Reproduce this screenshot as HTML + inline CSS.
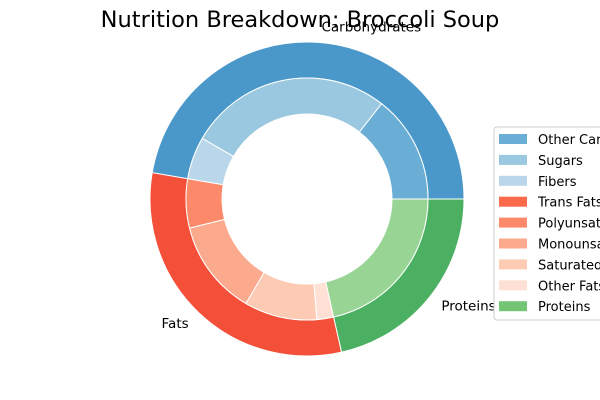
<!DOCTYPE html>
<html><head><meta charset="utf-8"><style>
body{margin:0;background:#fff;}
svg{display:block;font-family:"DejaVu Sans","Liberation Sans",sans-serif;}
</style></head><body>
<svg id="chart" width="600" height="400" viewBox="0 0 600 400">
<rect width="600" height="400" fill="#fff"/>
<text x="300" y="27" text-anchor="middle" font-size="22.5" fill="#000">Nutrition Breakdown: Broccoli Soup</text>
<g id="outer"></g>
<g id="inner"></g>
<g id="labels"></g>
<g id="legend"></g>
</svg>
<script>
const outerCategories = ["Carbohydrates","Fats","Proteins"];
const outerValues = [170.4, 112.4, 77.3];
const outerColors = ["#4a98c9","#f44f39","#4bb062"];
const innerCategories = ["Other Carbs","Sugars","Fibers","Trans Fat","Polyunsaturated","Monounsaturated","Saturated","Other Fats","Proteins"];
const innerValues = [52, 98, 20.4, 0, 23.6, 45.8, 35, 8, 77.3];
const innerColors = ["#6aaed6","#9ac8e0","#bad6eb","#fb6a4a","#fc8a6a","#fcaa8e","#fdcab4","#fee1d4","#98d594"];
const legendColors = ["#6aaed6","#9ac8e0","#bad6eb","#fb6a4a","#fc8a6a","#fcaa8e","#fdcab4","#fee1d4","#74c476"];
const legendLabels = ["Other Carbohydrates","Sugars","Fibers","Trans Fats","Polyunsaturated","Monounsaturated","Saturated","Other Fats","Proteins"];

const NS="http://www.w3.org/2000/svg";
const cx=307, cy=199;
function pt(r,a){const t=a*Math.PI/180;return [cx+r*Math.cos(t), cy-r*Math.sin(t)];}
function arc(r0,r1,a0,a1){
  const large=(a1-a0)>180?1:0;
  const p0=pt(r1,a0),p1=pt(r1,a1),p2=pt(r0,a1),p3=pt(r0,a0);
  return `M${p0[0]},${p0[1]} A${r1},${r1} 0 ${large} 0 ${p1[0]},${p1[1]} L${p2[0]},${p2[1]} A${r0},${r0} 0 ${large} 1 ${p3[0]},${p3[1]} Z`;
}
function ring(g,vals,cols,names,r0,r1){
  const tot=vals.reduce((a,b)=>a+b,0);let a=0;
  vals.forEach((v,i)=>{
    const a1=a+v/tot*360;
    if(v>0){
      const p=document.createElementNS(NS,"path");
      p.setAttribute("d",arc(r0,r1,a,a1));
      p.setAttribute("fill",cols[i]);p.setAttribute("stroke","#fff");p.setAttribute("stroke-width","1");
      
      
      g.appendChild(p);
    }
    a=a1;
  });
}
ring(document.getElementById("outer"),outerValues,outerColors,outerCategories,121,157);
ring(document.getElementById("inner"),innerValues,innerColors,innerCategories,85,121);

(function(){
  const g=document.getElementById("labels");
  const tot=outerValues.reduce((a,b)=>a+b,0);let a=0;
  outerValues.forEach((v,i)=>{
    const mid=a+v/tot*180;a+=v/tot*360;
    const p=pt(172,mid);
    const t=document.createElementNS(NS,"text");
    t.setAttribute("x",p[0]);t.setAttribute("y",p[1]+4);
    t.setAttribute("font-size","13.5");
    t.setAttribute("text-anchor",Math.cos(mid*Math.PI/180)>=0?"start":"end");
    t.textContent=outerCategories[i];
    
    
    g.appendChild(t);
  });
})();

(function(){
  const g=document.getElementById("legend");
  const box=document.createElementNS(NS,"rect");
  box.setAttribute("x",494);box.setAttribute("y",127);box.setAttribute("width",120);box.setAttribute("height",193);
  box.setAttribute("rx",3);box.setAttribute("fill","#fff");box.setAttribute("stroke","#ccc");
  
  
  g.appendChild(box);
  legendLabels.forEach((l,i)=>{
    const y=139+i*20.9;
    const r=document.createElementNS(NS,"rect");
    r.setAttribute("x",499);r.setAttribute("y",y-5);r.setAttribute("width",28);r.setAttribute("height",10);
    r.setAttribute("fill",legendColors[i]);
    
    
    g.appendChild(r);
    const t=document.createElementNS(NS,"text");
    t.setAttribute("x",538);t.setAttribute("y",y+5);t.setAttribute("font-size","13");
    t.textContent=l;
    
    
    g.appendChild(t);
  });
})();
</script>
</body></html>
